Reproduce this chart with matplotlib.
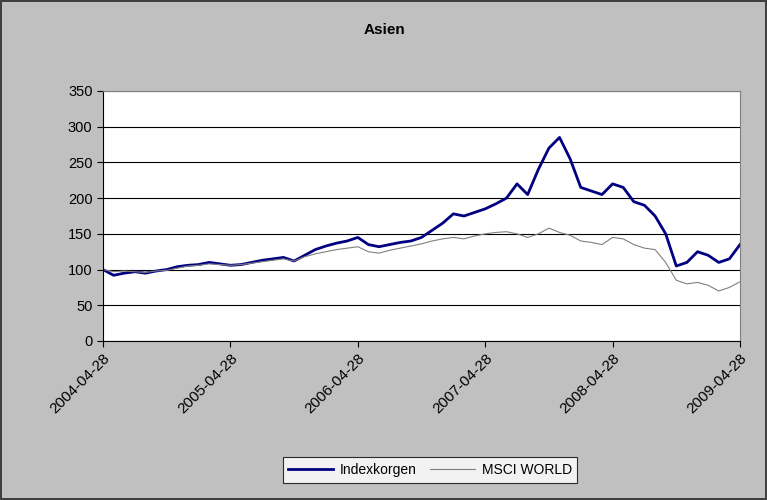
import matplotlib
matplotlib.use("Agg")
import matplotlib.pyplot as plt

tick_labels = ["2004-04-28", "2005-04-28", "2006-04-28", "2007-04-28", "2008-04-28", "2009-04-28"]
indexkorgen = [100, 92, 95, 97, 95, 98, 100, 104, 106,
               107, 110, 108, 106, 107, 110, 113, 115, 117, 112, 120, 128,
               133, 137, 140, 145, 135, 132, 135, 138, 140, 145, 155, 165,
               178, 175, 180, 185, 192, 200, 220, 205, 240, 270, 285, 255,
               215, 210, 205, 220, 215, 195, 190, 175, 150, 105, 110, 125,
               120, 110, 115, 135]
msci = [100, 97, 98, 97, 96, 98, 99, 102, 105,
        106, 108, 107, 106, 107, 109, 111, 113, 115, 112, 118, 122,
        125, 128, 130, 132, 125, 123, 127, 130, 133, 136, 140, 143,
        145, 143, 147, 150, 152, 153, 150, 145, 150, 158, 152, 148,
        140, 138, 135, 145, 143, 135, 130, 128, 110, 85, 80, 82,
        78, 70, 75, 83]

W, H = 767, 500
fig = plt.figure(figsize=(W/100, H/100), dpi=100, facecolor="#C0C0C0",
                 edgecolor="#404040", linewidth=1.5)
ax = fig.add_axes([103/W, 1-341/H, (740-103)/W, 250/H])
ax.set_facecolor("white")
x = list(range(len(indexkorgen)))
ax.plot(x, indexkorgen, color="#000080", lw=2, label="Indexkorgen")
ax.plot(x, msci, color="#808080", lw=0.8, label="MSCI WORLD")
ax.set_xlim(0, 60)
ax.set_ylim(0, 350)
ax.set_yticks(range(0, 351, 50))
ax.set_xticks(range(0, 61, 12))
ax.set_xticklabels(tick_labels, rotation=45, ha="right", rotation_mode="anchor", fontsize=11, family="Liberation Sans")
for t in ax.get_yticklabels():
    t.set_fontsize(10.5); t.set_family("Liberation Sans")
ax.grid(axis="y", color="black", lw=0.8)
ax.set_axisbelow(True)
ax.tick_params(direction="out", length=4)
for s in ax.spines.values():
    s.set_color("#808080")
ax.spines["left"].set_color("black"); ax.spines["bottom"].set_color("black")
fig.text(384/W, 1-30/H, "Asien", ha="center", va="center", fontsize=11, fontweight="bold", family="Liberation Sans")
leg = fig.legend(loc="center", bbox_to_anchor=(430/W, 1-470/H), ncol=2, frameon=True, fancybox=False,
                 edgecolor="black", facecolor="white", prop={"family": "Liberation Sans", "size": 10},
                 handlelength=3.2, columnspacing=1.0, handletextpad=0.5, borderpad=0.4)
leg.get_frame().set_linewidth(0.8)
fig.savefig("out.png", dpi=100, facecolor=fig.get_facecolor(), edgecolor=fig.get_edgecolor())
